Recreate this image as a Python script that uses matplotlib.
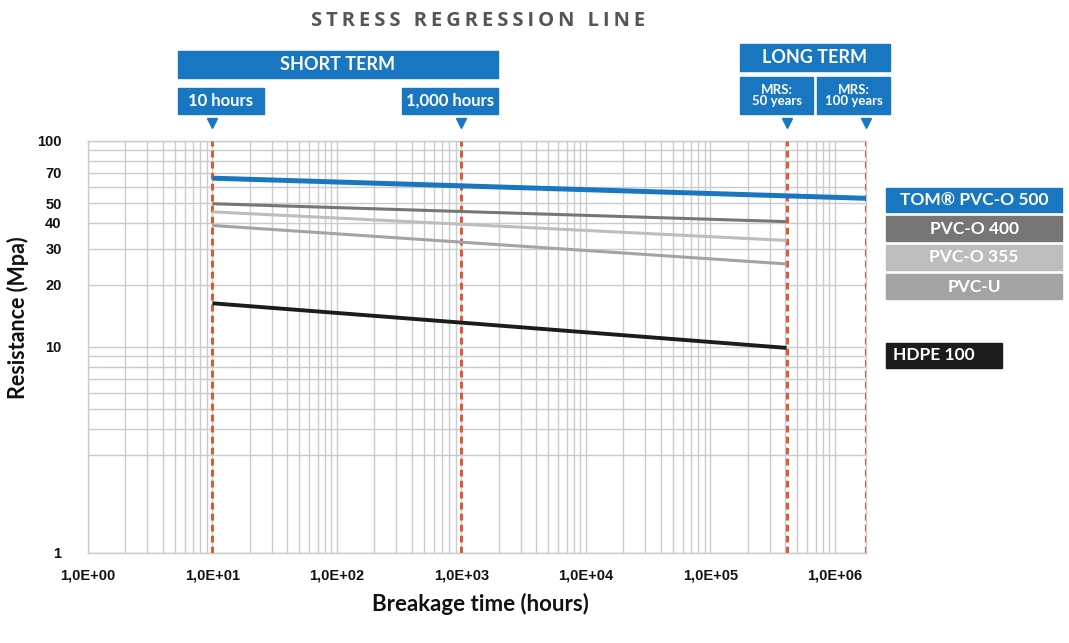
import numpy as np
import matplotlib.pyplot as plt
from matplotlib.patches import Rectangle
from matplotlib.transforms import blended_transform_factory
from matplotlib.ticker import FixedLocator, NullFormatter

# breakage time (hours) of the marker lines
marker_hours = [10, 1000, 4.1e5, 1.78e6]
marker_labels = ["10 hours", "1,000 hours", "MRS:\n50 years", "MRS:\n100 years"]

# regression lines: start / end time (hours) and stress (MPa)
series_names = ["TOM® PVC-O 500", "PVC-O 400", "PVC-O 355", "PVC-U", "HDPE 100"]
series_t0 = [10, 10, 10, 10, 10]
series_t1 = [1.78e6, 4.1e5, 4.1e5, 4.1e5, 4.1e5]
series_s0 = [66.0, 49.6, 45.3, 38.9, 16.3]
series_s1 = [52.7, 40.6, 32.9, 25.3, 9.9]
series_colors = ["#1877c0", "#767676", "#bdbdbd", "#a3a3a3", "#1c1c1c"]
series_widths = [3.6, 2.2, 2.2, 2.2, 2.8]

x_ticks = [1, 10, 100, 1e3, 1e4, 1e5, 1e6]
x_labels = ["1,0E+00", "1,0E+01", "1,0E+02", "1,0E+03", "1,0E+04", "1,0E+05", "1,0E+06"]
y_ticks = [1, 10, 20, 30, 40, 50, 70, 100]

BLUE = "#1877c0"
GRID = "#c9cbce"
RED = "#dc5a36"
LABEL_FONT = ["Lato", "DejaVu Sans"]
TICK_FONT = ["Liberation Sans", "DejaVu Sans"]

fig = plt.figure(figsize=(10.69, 6.43), dpi=100)
ax = fig.add_axes([88 / 1069, 1 - 553 / 643, (866 - 88) / 1069, (553 - 141) / 643])
ax.set_xscale("log")
ax.set_yscale("log")
ax.set_xlim(1, 1.78e6)
ax.set_ylim(1, 100)

# grid
xminor = [m * 10 ** e for e in range(0, 7) for m in range(2, 10) if m * 10 ** e < 1.78e6]
yminor = [m * 10 ** e for e in range(0, 2) for m in range(2, 10) if not (e == 0 and m == 2)]
ax.xaxis.set_minor_locator(FixedLocator(xminor))
ax.yaxis.set_minor_locator(FixedLocator(yminor))
ax.xaxis.set_minor_formatter(NullFormatter())
ax.yaxis.set_minor_formatter(NullFormatter())
ax.grid(True, which="both", color=GRID, lw=1.0)
ax.set_axisbelow(True)
for sp in ax.spines.values():
    sp.set_color(GRID)
    sp.set_linewidth(1.0)

ax.set_xticks(x_ticks)
ax.set_xticklabels(x_labels)
ax.set_yticks(y_ticks)
ax.set_yticklabels([str(v) for v in y_ticks])
ax.tick_params(which="both", length=0)
ax.tick_params(axis="x", pad=11)
ax.tick_params(axis="y", pad=19)
for lab in ax.get_xticklabels() + ax.get_yticklabels():
    lab.set_fontfamily(TICK_FONT)
    lab.set_fontweight("bold")
    lab.set_fontsize(10.5)
    lab.set_color("#111111")

# dashed marker lines
for h in marker_hours:
    ax.axvline(h, color=RED, lw=2.2, ls=(0, (2.2, 1.4)), zorder=3)

# regression lines
for i in range(len(series_names)):
    ax.plot([series_t0[i], series_t1[i]], [series_s0[i], series_s1[i]],
            color=series_colors[i], lw=series_widths[i], solid_capstyle="butt", zorder=4)

# triangles above the plot
trans = blended_transform_factory(ax.transData, ax.transAxes)
for h in marker_hours:
    ax.plot(h, 1.044, marker="v", color=BLUE, ms=7, transform=trans, clip_on=False)


def box(x0, y0, x1, y1, text, color, size, tcolor="white", left=False):
    W, H = 1069, 643
    fig.patches.append(Rectangle((x0 / W, 1 - y1 / H), (x1 - x0) / W, (y1 - y0) / H,
                                 transform=fig.transFigure, color=color, zorder=1))
    if left:
        tx, ha = (x0 + 7) / W, "left"
    else:
        tx, ha = (x0 + x1) / 2 / W, "center"
    fig.text(tx, 1 - (y0 + y1) / 2 / H, text, ha=ha, va="center",
             color=tcolor, fontsize=size, fontweight="bold", family=LABEL_FONT,
             linespacing=0.9)


# header boxes
box(178, 51, 498, 78, "SHORT TERM", BLUE, 13)
box(178, 88, 264, 114, marker_labels[0], BLUE, 12)
box(402, 88, 498, 114, marker_labels[1], BLUE, 12)
box(740, 44, 890, 71, "LONG TERM", BLUE, 13)
box(740, 77, 813, 114, marker_labels[2], BLUE, 9.5)
box(817, 77, 890, 114, marker_labels[3], BLUE, 9.5)

# legend boxes
legend_y = [(188, 212), (216, 241), (245, 270), (274, 299), (343, 368)]
legend_x1 = [1062, 1062, 1062, 1062, 1002]
for i in range(len(series_names)):
    box(886, legend_y[i][0], legend_x1[i], legend_y[i][1], series_names[i],
        series_colors[i], 12.5, left=(i == 4))

fig.text(478 / 1069, 1 - 21 / 643, "\u2009".join("STRESS REGRESSION LINE"),
         ha="center", va="center", fontsize=14.5, fontweight="bold", color="#555555",
         family=["Open Sans", "DejaVu Sans"])
fig.text(480 / 1069, 1 - 604 / 643, "Breakage time (hours)", ha="center", va="center",
         fontsize=16, fontweight="bold", color="#111111", family=LABEL_FONT)
fig.text(18 / 1069, 1 - 318 / 643, "Resistance (Mpa)", ha="center", va="center",
         rotation=90, fontsize=15.5, fontweight="bold", color="#111111", family=LABEL_FONT)

fig.savefig("out.png", dpi=100)
